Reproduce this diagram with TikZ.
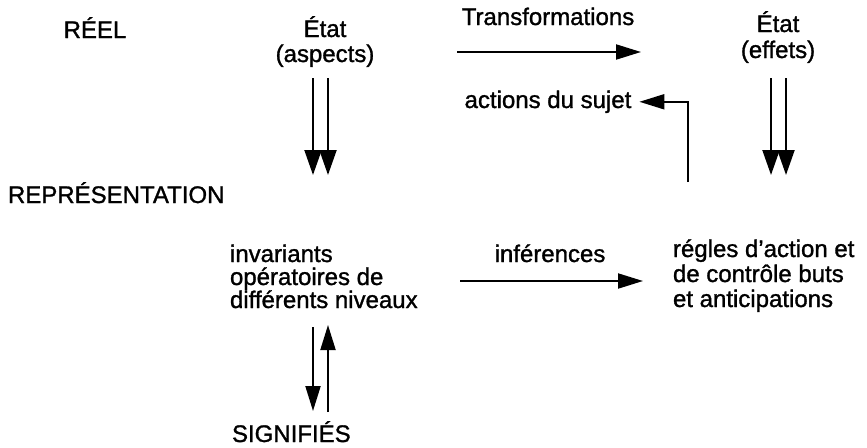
\documentclass[tikz,border=0pt]{standalone}
\usepackage{fontspec}
\setmainfont{Liberation Sans}[FakeBold=1.2]
\usetikzlibrary{arrows.meta}
\begin{document}
\begin{tikzpicture}[x=1pt,y=-1pt,
  lbl/.style={inner sep=0pt, outer sep=0pt, font=\fontsize{24}{23}\selectfont},
  arr/.style={line width=2pt, -{Triangle[length=25pt,width=15pt]}},
  darr/.style={line width=2pt, -{Triangle[length=25pt,width=17pt]}}]
\useasboundingbox (0,0) rectangle (867,447);
% text nodes (multi-line nodes: base = last line baseline)
\node[lbl, anchor=base] (reel) at (95,38) {RÉEL};
\node[lbl, anchor=base, align=center, font=\fontsize{24}{25}\selectfont] (etatA) at (325,62) {État\\(aspects)};
\node[lbl, anchor=base] (transf) at (548,25) {Transformations};
\node[lbl, anchor=base, align=center, font=\fontsize{24}{26}\selectfont] (etatB) at (778,58) {État\\(effets)};
\node[lbl, anchor=base] (actions) at (548,108) {actions du sujet};
\node[lbl, anchor=base west] (repr) at (8,203) {REPRÉSENTATION};
\node[lbl, anchor=base west, align=left] (inv) at (230,308) {invariants\\opératoires de\\différents niveaux};
\node[lbl, anchor=base] (infer) at (550,262) {inférences};
\node[lbl, anchor=base west, align=left, font=\fontsize{24}{25}\selectfont] (regles) at (673,307) {régles d’action et\\de contrôle buts\\et anticipations};
\node[lbl, anchor=base west] (signif) at (232,442) {SIGNIFIÉS};
% coordinates for connector ends
\coordinate (tA) at (457,52);
\coordinate (tB) at (641,52);
\coordinate (a1s) at (313,78);
\coordinate (a1e) at (313,175);
\coordinate (a2s) at (328,78);
\coordinate (a2e) at (328,175);
\coordinate (b1s) at (771,78);
\coordinate (b1e) at (771,175);
\coordinate (b2s) at (786,78);
\coordinate (b2e) at (786,175);
\coordinate (actS) at (688,182);
\coordinate (iA) at (460,281);
\coordinate (iB) at (643,281);
\coordinate (d1s) at (313,327);
\coordinate (d1e) at (313,411);
\coordinate (u1s) at (328,412);
\coordinate (u1e) at (328,325);
% connectors
\draw[arr] (tA) -- (tB);
\draw[darr] (a1s) -- (a1e);
\draw[darr] (a2s) -- (a2e);
\draw[darr] (b1s) -- (b1e);
\draw[darr] (b2s) -- (b2e);
\draw[arr] (actS) |- ([xshift=8pt]actions.east);
\draw[arr] (iA) -- (iB);
\draw[arr] (d1s) -- (d1e);
\draw[arr] (u1s) -- (u1e);
\end{tikzpicture}
\end{document}
